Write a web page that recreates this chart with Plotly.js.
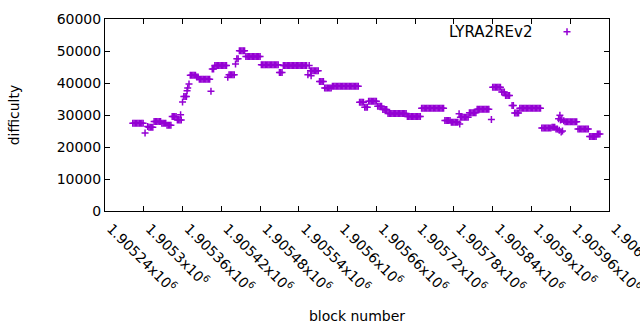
<!DOCTYPE html>
<html>
<head>
<meta charset="utf-8">
<script src="https://cdn.plot.ly/plotly-3.0.1.min.js"></script>
<style>
html, body { margin: 0; padding: 0; background: #ffffff; }
#chart { width: 640px; height: 330px; }
</style>
</head>
<body>
<div id="chart"></div>
<script>
// Series name
const seriesName = "LYRA2REv2";

// Block numbers (x)
const blockNumbers = [
  1905283,1905285,1905287,1905289,1905291,1905293,1905295,1905297,1905299,
  1905302,1905306,
  1905308,1905310,1905312,1905314,
  1905316,1905318,1905320,1905322,1905324,1905326,
  1905328,1905330,1905332,1905334,
  1905336,1905338,1905340,1905342,
  1905344,1905346,1905348,1905350,
  1905352,1905354,1905356,1905357,1905358,
  1905360,1905362,1905364,1905366,1905367,1905368,1905370,
  1905372,1905374,1905376,1905378,1905380,
  1905382,1905384,
  1905386,1905388,1905390,1905392,1905394,1905396,1905398,1905400,1905402,
  1905404,1905406,1905408,
  1905410,1905412,1905414,1905416,1905418,1905420,1905422,1905424,1905426,1905428,
  1905430,1905432,1905434,1905436,1905438,1905440,1905442,
  1905444,1905446,
  1905448,1905450,1905452,1905454,1905456,
  1905458,1905460,1905462,1905464,1905466,1905468,1905470,1905472,1905474,1905476,1905478,1905480,
  1905482,1905484,1905486,1905488,1905490,1905492,1905494,1905496,1905498,1905500,1905502,1905504,1905506,1905508,
  1905510,1905512,1905514,
  1905516,1905518,1905520,1905522,1905524,1905526,1905528,1905530,1905532,1905534,1905536,1905538,1905540,1905542,1905544,1905546,1905548,1905550,1905552,
  1905554,1905556,1905558,1905559,
  1905560,1905562,1905564,1905566,1905568,1905570,
  1905572,1905574,1905576,1905578,
  1905580,1905582,1905584,1905586,1905588,1905590,
  1905592,1905594,1905596,1905598,1905600,1905602,1905604,1905606,1905608,1905610,1905612,1905614,1905616,1905618,1905620,1905622,1905624,1905626,1905628,1905630,1905632,
  1905634,1905636,1905638,1905640,
  1905642,1905644,1905646,
  1905648,1905650,1905652,1905654,1905656,1905658,1905660,
  1905662,1905664,1905666,1905668,
  1905670,1905672,1905674,1905676,
  1905678,1905680,1905682,1905684,1905686,1905688,1905690,1905692,1905694,1905696,1905698,1905700,1905702,1905704,1905706,
  1905708,1905710,1905712,1905714,1905716,1905718,1905720,1905722,1905724,1905726,1905728,
  1905730,1905732,1905734,1905736,1905738,1905740,1905742,1905744,1905746,1905748,1905750,1905752,1905754,1905756,1905758,1905760,1905762,1905764,
  1905766,1905768,1905770,1905772,1905774,
  1905776,1905778,1905780,1905782,1905784,1905786,
  1905788,1905789,
  1905790,1905792,1905794,1905796,1905798,1905800,1905802,
  1905804,1905806,1905808,1905810,1905812,1905814,
  1905816,1905818,1905820,1905822,1905824,1905826,1905828,1905830,1905832,1905834,
  1905838,
  1905840,1905842,1905844,1905846,1905848,1905850,1905852,
  1905854,1905856,1905858,
  1905860,1905862,1905864,1905866,
  1905870,1905872,
  1905874,1905876,1905878,1905880,
  1905882,1905884,1905886,1905888,1905890,1905892,1905894,1905896,1905898,1905900,1905902,1905904,1905906,1905908,1905910,1905912,1905914,
  1905916,1905918,1905920,1905922,1905924,1905926,1905928,1905930,
  1905932,1905934,1905936,
  1905938,1905940,1905942,1905943,1905944,1905945,1905946,1905947,1905948,1905950,
  1905952,1905954,1905956,1905958,1905960,1905962,1905964,1905966,1905968,1905970,
  1905972,1905974,1905976,1905978,1905980,1905982,1905984,1905986,1905988,
  1905990,1905992,1905994,1905996,1905998,1906000,
  1906002,1906004,1906006
];

// Difficulty (y), aligned with blockNumbers
const difficulty = [
  27400,27400,27400,27400,27400,27400,27400,27400,27400,
  24400,26400,
  26200,26200,26200,26200,
  28000,28000,28000,28000,28000,28000,
  27400,27400,27400,27400,
  26800,26800,26800,26800,
  29500,29500,29500,29500,
  28400,28400,28400,30100,28400,
  34100,35800,35800,35800,37600,38400,39700,
  42400,42400,42400,42400,42400,
  41900,41900,
  41200,41200,41200,41200,41200,41200,41200,41200,41200,
  37400,44400,44400,
  45500,45500,45500,45500,45500,45500,45500,45500,45500,45500,
  41800,42600,42600,42600,42600,42600,45900,
  47600,47600,
  50100,50100,50100,50100,50100,
  48300,48300,48300,48300,48300,48300,48300,48300,48300,48300,48300,48300,
  45700,45700,45700,45700,45700,45700,45700,45700,45700,45700,45700,45700,45700,45700,
  43300,43300,43300,
  45500,45500,45500,45500,45500,45500,45500,45500,45500,45500,45500,45500,45500,45500,45500,45500,45500,45500,45500,
  42600,45500,43800,42300,
  43800,43800,43800,43800,43800,43800,
  40500,40500,40500,40500,
  38400,38400,38400,38400,38400,38400,
  39000,39000,39000,39000,39000,39000,39000,39000,39000,39000,39000,39000,39000,39000,39000,39000,39000,39000,39000,39000,39000,
  34000,34000,34000,34000,
  32400,32400,32400,
  34300,34300,34300,34300,34300,34300,34300,
  32700,32700,32700,32700,
  31700,31700,31700,31700,
  30500,30500,30500,30500,30500,30500,30500,30500,30500,30500,30500,30500,30500,30500,30500,
  29500,29500,29500,29500,29500,29500,29500,29500,29500,29500,29500,
  32100,32100,32100,32100,32100,32100,32100,32100,32100,32100,32100,32100,32100,32100,32100,32100,32100,32100,
  28300,28300,28300,28300,28300,
  27700,27700,27700,27700,27700,27700,
  30400,27200,
  29300,29300,29300,29300,29300,29300,29300,
  30700,30700,30700,30700,30700,30700,
  31800,31800,31800,31800,31800,31800,31800,31800,31800,31800,
  28600,
  38700,38700,38700,38700,38700,38700,38700,
  37200,37200,37200,
  36100,36100,36100,36100,
  33000,33000,
  30600,30600,30600,30600,
  32100,32100,32100,32100,32100,32100,32100,32100,32100,32100,32100,32100,32100,32100,32100,32100,32100,
  25900,25900,25900,25900,25900,25900,25900,25900,
  26200,26200,26200,
  25600,25600,28800,25200,29900,28400,24700,28600,25000,28200,
  27900,27900,27900,27900,27900,27900,27900,27900,27900,27900,
  25600,25600,25600,25600,25600,25600,25600,25600,25600,
  23300,23300,23300,23300,23300,23300,
  24100,24100,24100
];

// Axis ticks
const xTickValues = [1905240,1905300,1905360,1905420,1905480,1905540,1905600,1905660,1905720,1905780,1905840,1905900,1905960,1906020];
const xTickLabels = ["1.90524","1.9053","1.90536","1.90542","1.90548","1.90554","1.9056","1.90566","1.90572","1.90578","1.90584","1.9059","1.90596","1.90602"];
const yTickValues = [0,10000,20000,30000,40000,50000,60000];

const FONT = "'DejaVu Sans', sans-serif";
const purple = "#9400d3";

const trace = {
  type: "scatter",
  mode: "markers",
  x: blockNumbers,
  y: difficulty,
  name: " ",
  showlegend: true,
  hoverinfo: "skip",
  marker: {
    symbol: "cross-thin",
    size: 5,
    color: purple,
    line: { color: purple, width: 1.5 }
  }
};

const layout = {
  width: 640,
  height: 330,
  margin: { l: 105, r: 31, t: 19, b: 119, pad: 0 },
  paper_bgcolor: "#ffffff",
  plot_bgcolor: "#ffffff",
  font: { family: FONT, size: 14, color: "#000000" },
  hovermode: false,
  showlegend: true,
  legend: {
    x: 0.877, y: 0.932, xanchor: "left", yanchor: "middle",
    bgcolor: "rgba(0,0,0,0)", borderwidth: 0,
    font: { family: FONT, size: 14, color: "#000000" }
  },
  xaxis: {
    range: [1905240, 1906020],
    tickmode: "array",
    tickvals: xTickValues,
    ticktext: xTickLabels.map(t => t + "x10<sup>6</sup>"),
    tickangle: 45,
    ticks: "inside",
    ticklen: 5,
    tickwidth: 1,
    tickcolor: "#000000",
    ticklabelshift: 6,
    ticklabelstandoff: 3,
    ticklabeloverflow: "allow",
    showline: true,
    linecolor: "#000000",
    linewidth: 1,
    mirror: "ticks",
    showgrid: false,
    zeroline: false,
    automargin: false,
    tickfont: { family: FONT, size: 14, color: "#000000" },
    title: { text: "block number", standoff: 16, font: { family: FONT, size: 14, color: "#000000" } }
  },
  yaxis: {
    range: [0, 60000],
    tickmode: "array",
    tickvals: yTickValues,
    ticktext: yTickValues.map(v => String(v)),
    ticks: "inside",
    ticklen: 5,
    tickwidth: 1,
    tickcolor: "#000000",
    showline: true,
    linecolor: "#000000",
    linewidth: 1,
    mirror: "ticks",
    showgrid: false,
    zeroline: false,
    automargin: false,
    tickfont: { family: FONT, size: 14, color: "#000000" },
    title: { text: "difficulty", standoff: 33, font: { family: FONT, size: 14, color: "#000000" } }
  },
  annotations: [
    {
      xref: "paper", yref: "paper",
      x: 0.851, y: 0.932, xanchor: "right", yanchor: "middle",
      text: seriesName, showarrow: false,
      font: { family: FONT, size: 15, color: "#000000" }
    }
  ]
};

Plotly.newPlot("chart", [trace], layout, { displayModeBar: false, staticPlot: true });
</script>
</body>
</html>
